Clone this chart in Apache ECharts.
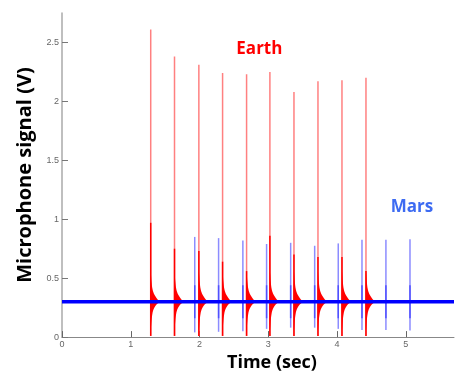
<!DOCTYPE html>
<html>
<head>
<meta charset="utf-8">
<style>
  html, body { margin: 0; padding: 0; background: #fff; }
  #chart-1 { width: 455px; height: 377px; }
</style>
<script src="https://cdn.jsdelivr.net/npm/echarts@6/dist/echarts.min.js"></script>
</head>
<body>
<div id="chart-1"></div>
<script>
// tick labels
var xTicks = [0, 1, 2, 3, 4, 5];
var yTicks = [0, 0.5, 1, 1.5, 2, 2.5];

// Earth knocks: time (s), peak (V), top of the dense part (V)
var earthTimes = [1.29, 1.636, 1.99, 2.335, 2.684, 3.023, 3.373, 3.722, 4.071, 4.42];
var earthPeaks = [2.61, 2.38, 2.31, 2.24, 2.23, 2.25, 2.08, 2.17, 2.18, 2.20];
var earthCore = [0.97, 0.75, 0.73, 0.64, 0.56, 0.86, 0.70, 0.68, 0.68, 0.56];

// Mars knocks: time (s), top (V), bottom (V)
var marsTimes = [1.93, 2.277, 2.63, 2.975, 3.325, 3.674, 4.017, 4.362, 4.71, 5.06];
var marsTops = [0.85, 0.84, 0.82, 0.79, 0.80, 0.775, 0.795, 0.826, 0.826, 0.83];
var marsBottoms = [0.04, 0.045, 0.05, 0.07, 0.08, 0.08, 0.07, 0.06, 0.06, 0.056];

// signal offset (V)
var baseLevel = 0.3;

// ringing after each Earth knock: time after knock (s) and half width (V)
var ringOffsets = [0, 0.012, 0.025, 0.045, 0.07, 0.1, 0.14];
var ringUpper = [0.25, 0.17, 0.11, 0.07, 0.045, 0.02, 0];
var ringLower = [0.24, 0.16, 0.1, 0.06, 0.035, 0.015, 0];

var texts = [
  { name: 'Earth', t: 2.87, v: 2.44, color: '#ff0000' },
  { name: 'Mars', t: 5.09, v: 1.10, color: '#3d6bf2' }
];

initChart1();

function initChart1() {
  var dom1 = document.getElementById("chart-1");
  var myChart1 = echarts.init(dom1);

  var earthData = earthTimes.map(function (t, i) {
    return [t, earthPeaks[i], earthCore[i]];
  });
  var marsData = marsTimes.map(function (t, i) {
    return [t, marsTops[i], marsBottoms[i]];
  });

  var option = {
    backgroundColor: '#fff',
    animation: false,
    grid: {
      left: 62,
      right: 1,
      top: 13,
      bottom: 39,
      containLabel: false
    },
    xAxis: {
      type: 'value',
      min: 0,
      max: 5.7,
      name: 'Time (sec)',
      nameLocation: 'middle',
      nameGap: 16,
      nameTextStyle: {
        color: '#000',
        fontFamily: 'Open Sans',
        fontWeight: 'bold',
        fontSize: 18,
        padding: [0, 0, 0, 28]
      },
      splitLine: { show: false },
      axisLine: { lineStyle: { color: '#888', width: 1 } },
      axisTick: {
        inside: true,
        length: 6,
        customValues: xTicks,
        lineStyle: { color: '#666' }
      },
      axisLabel: {
        customValues: xTicks,
        margin: 3,
        color: '#666',
        fontSize: 9,
        fontFamily: 'Liberation Sans'
      }
    },
    yAxis: {
      type: 'value',
      min: 0,
      max: 2.75,
      name: 'Microphone signal (V)',
      nameLocation: 'middle',
      nameGap: 23,
      nameTextStyle: {
        color: '#000',
        fontFamily: 'Open Sans',
        fontWeight: 'bold',
        fontSize: 20
      },
      splitLine: { show: false },
      axisLine: { show: true, lineStyle: { color: '#aaa', width: 1.5 } },
      axisTick: {
        show: true,
        inside: true,
        length: 6,
        customValues: yTicks,
        lineStyle: { color: '#777' }
      },
      axisLabel: {
        customValues: yTicks,
        margin: 3,
        color: '#666',
        fontSize: 9,
        fontFamily: 'Liberation Sans'
      }
    },
    series: [{
        name: 'Earth',
        type: 'custom',
        data: earthData,
        encode: { x: 0, y: 1 },
        z: 2,
        renderItem: function (params, api) {
          var t = api.value(0);
          var bottom = api.coord([t, 0.01]);
          var top = api.coord([t, api.value(1)]);
          var core = api.coord([t, api.value(2)]);
          var pts = [];
          for (var i = 0; i < ringOffsets.length; i++) {
            pts.push(api.coord([t + ringOffsets[i], baseLevel + ringUpper[i]]));
          }
          for (var j = ringOffsets.length - 1; j >= 0; j--) {
            pts.push(api.coord([t + ringOffsets[j], baseLevel - ringLower[j]]));
          }
          return {
            type: 'group',
            children: [{
                type: 'line',
                shape: { x1: top[0], y1: top[1], x2: bottom[0], y2: bottom[1] },
                style: { stroke: '#ff8080', lineWidth: 1.5 }
              },
              {
                type: 'line',
                shape: { x1: core[0], y1: core[1], x2: bottom[0], y2: bottom[1] },
                style: { stroke: '#ff0000', lineWidth: 1.5 }
              },
              {
                type: 'polygon',
                shape: { points: pts, smooth: 0.3 },
                style: { fill: '#ff0000' }
              }
            ]
          };
        }
      },
      {
        name: 'Mars',
        type: 'custom',
        data: marsData,
        encode: { x: 0, y: 1 },
        z: 3,
        renderItem: function (params, api) {
          var t = api.value(0);
          var top = api.coord([t, api.value(1)]);
          var bottom = api.coord([t, api.value(2)]);
          var d1 = api.coord([t, baseLevel + 0.14]);
          var d2 = api.coord([t, baseLevel - 0.14]);
          return {
            type: 'group',
            children: [{
                type: 'line',
                shape: { x1: top[0], y1: top[1], x2: bottom[0], y2: bottom[1] },
                style: { stroke: '#8c8cff', lineWidth: 1.5 }
              },
              {
                type: 'line',
                shape: { x1: d1[0], y1: d1[1], x2: d2[0], y2: d2[1] },
                style: { stroke: '#5050ff', lineWidth: 1.5 }
              }
            ]
          };
        }
      },
      {
        name: 'baseline',
        type: 'line',
        z: 4,
        symbol: 'none',
        data: [[0, baseLevel], [5.7, baseLevel]],
        lineStyle: { color: '#0000ff', width: 3.5 }
      },
      {
        name: 'labels',
        type: 'scatter',
        z: 5,
        symbolSize: 0,
        itemStyle: { opacity: 1 },
        data: texts.map(function (d) {
          return {
            value: [d.t, d.v],
            label: {
              show: true,
              position: 'inside',
              formatter: d.name,
              color: d.color,
              fontFamily: 'Open Sans',
              fontWeight: 'bold',
              fontSize: 17
            }
          };
        })
      }
    ]
  };

  if (option && typeof option === "object") {
    myChart1.setOption(option, true);
    window.onresize = myChart1.resize;
  }
}
</script>
</body>
</html>
